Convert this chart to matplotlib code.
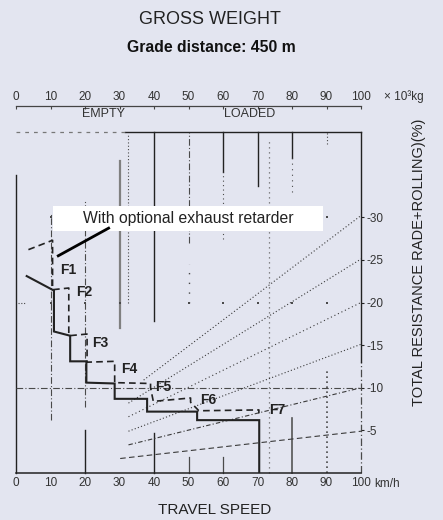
import matplotlib
matplotlib.use("Agg")
import matplotlib.pyplot as plt
from matplotlib.patches import Rectangle

plt.rcParams['font.family'] = ['Liberation Sans', 'DejaVu Sans']

BG = '#e3e5f0'
INK = '#222222'
GRID = '#4a4a4a'

# ---------------- data ----------------
speed_ticks = [0, 10, 20, 30, 40, 50, 60, 70, 80, 90, 100]
weight_ticks = [0, 10, 20, 30, 40, 50, 60, 70, 80, 90, 100]
resist_ticks = [5, 10, 15, 20, 25, 30]
resist_labels = ['-5', '-10', '-15', '-20', '-25', '-30']

# stepped curve without retarder (speed km/h, resistance %)
plain_speed = [3.1, 11.0, 11.0, 15.7, 15.7, 20.4, 20.4, 28.6, 28.6, 38.0, 38.0, 52.5, 52.5, 70.5, 70.5]
plain_resist = [23.1, 21.4, 16.6, 16.1, 13.1, 13.1, 10.6, 10.5, 8.7, 8.7, 7.2, 7.2, 6.2, 6.2, 0.0]

# stepped curve with optional exhaust retarder
ret_speed = [3.6, 10.6, 10.6, 15.3, 15.3, 20.6, 20.6, 28.6, 28.6, 39.0, 39.0, 39.8, 50.6, 50.6,
             53.0, 70.4, 70.4]
ret_resist = [26.2, 27.3, 21.5, 21.7, 16.1, 16.3, 13.0, 13.1, 10.6, 10.5, 10.0, 8.4, 8.8, 8.3,
              7.3, 7.4, 7.0]

gear_labels = ['F1', 'F2', 'F3', 'F4', 'F5', 'F6', 'F7']
gear_x = [12.8, 17.4, 22.0, 30.4, 40.2, 53.5, 73.3]
gear_y = [23.8, 21.2, 15.3, 12.2, 10.1, 8.6, 7.4]

# grade lines: start (speed, resistance) -> end at 100 km/h
grade_start_x = [37.0, 32.6, 32.6, 32.6, 32.6, 30.2]
grade_start_y = [10.9, 8.2, 6.6, 4.9, 3.3, 1.7]
grade_end_y = [30.2, 25.1, 20.0, 15.1, 10.0, 4.9]
grade_styles = [(0, (1, 2)), (0, (1, 2)), (0, (1, 2.5)), (0, (1, 2)), (0, (4, 2, 1, 2)), (0, (5, 3))]

# weight guide segments (x, y_from, y_to, style, colour)
guide_x = [0, 10, 20, 20, 30, 32.6, 40, 40, 50, 50, 50, 60, 60, 60, 70, 73.3, 80, 80, 80, 90, 90]
guide_y0 = [0, 6.2, 7.8, 0, 17.0, 20.0, 17.8, 0, 27.0, 0, 20.0, 35.3, 27.4, 0, 33.7, 0, 37.0, 33.0, 0, 38.6, 0]
guide_y1 = [35.0, 30.4, 31.9, 5.1, 36.6, 39.6, 40.0, 4.7, 40.0, 1.9, 24.5, 40.0, 35.3, 1.9, 40.0, 39.3, 40.0, 37.0, 6.5, 40.0, 12.3]
guide_ls = ['-', (0, (6, 2, 1, 2)), (0, (6, 2, 1, 2)), '-', '-', (0, (1, 2)), '-', '-',
            (0, (6, 2, 1, 2)), '-', (0, (1, 6)), '-', (0, (1, 3)), '-', '-', (0, (1, 3)), '-',
            (0, (1, 4)), '-', (0, (1, 2)), (0, (1, 2))]
guide_lw = [1.0, 0.8, 0.8, 1.0, 1.6, 0.8, 1.0, 1.0, 0.8, 0.9, 1.0, 1.0, 0.8, 0.9, 1.0, 0.9, 1.0,
            0.8, 1.2, 0.8, 1.2]
guide_col = [INK, GRID, GRID, INK, '#808080', GRID, INK, INK, GRID, GRID, GRID, INK, GRID, GRID,
             INK, '#666666', INK, GRID, '#555555', GRID, GRID]

dot_rows = [20, 30]
dot_cols = [10, 20, 30, 50, 60, 70, 80, 90]

# ---------------- figure ----------------
W, H = 443, 520
fig = plt.figure(figsize=(W / 100, H / 100), dpi=100, facecolor=BG)
ax = fig.add_axes([16 / W, 47 / H, 345 / W, 341 / H])
ax.set_facecolor(BG)
ax.set_xlim(0, 100)
ax.set_ylim(0, 40)
for s in ax.spines.values():
    s.set_visible(False)

# frame
ax.plot([0, 100], [0, 0], color=INK, lw=1.1, clip_on=False, zorder=3)
ax.plot([100, 100], [13, 40], color=INK, lw=1.0, clip_on=False, zorder=3)
ax.plot([100, 100], [0, 13], color=GRID, lw=0.9, ls=(0, (6, 2, 1, 2)), clip_on=False)
ax.plot([31.7, 100], [40, 40], color=INK, lw=1.0, clip_on=False)
ax.plot([0, 31.7], [40, 40], color='#777777', lw=0.9, ls=(0, (3, 4)), clip_on=False)

# guides
for x, a, b, ls, lw, c in zip(guide_x, guide_y0, guide_y1, guide_ls, guide_lw, guide_col):
    ax.plot([x, x], [a, b], color=c, lw=lw, ls=ls, clip_on=False, zorder=1)

# horizontal dash-dot at 10 %
ax.plot([0, 100], [10, 10], color=GRID, lw=0.8, ls=(0, (6, 2, 1, 2)), zorder=1)
for r in dot_rows:
    ax.scatter(dot_cols, [r] * len(dot_cols), s=2, color=GRID, marker='s', lw=0, zorder=1)
ax.plot([0.5, 3], [20, 20], color=GRID, lw=0.8, ls=(0, (1, 1.5)))

# grade lines
for x0, y0, y1, ls in zip(grade_start_x, grade_start_y, grade_end_y, grade_styles):
    ax.plot([x0, 100], [y0, y1], color='#3a3a3a', lw=0.8, ls=ls, zorder=2)

# curves
ax.plot(plain_speed, plain_resist, color=INK, lw=1.5, zorder=4, solid_joinstyle='miter')
ax.plot(ret_speed, ret_resist, color=INK, lw=1.2, ls=(0, (4, 2.5)), zorder=4)

for lab, x, y in zip(gear_labels, gear_x, gear_y):
    ax.text(x, y, lab, fontsize=10, fontweight='bold', color=INK, ha='left', va='center', zorder=5)

# annotation box
ax.add_patch(Rectangle((10.7, 28.4), 78.3, 2.95, facecolor='white', edgecolor='none', zorder=6))
ax.text(49.9, 29.85, 'With optional exhaust retarder', fontsize=11.3, color=INK,
        ha='center', va='center', zorder=7)
ax.plot([27.2, 11.9], [28.8, 25.4], color='black', lw=2.0, zorder=7, solid_capstyle='butt')

# bottom axis
ax.set_xticks(speed_ticks)
ax.set_xticklabels([str(v) for v in speed_ticks])
ax.tick_params(axis='x', length=0, pad=3, labelsize=8.5, labelcolor='#333333')

# right axis
ax.yaxis.tick_right()
ax.set_yticks(resist_ticks)
ax.set_yticklabels(resist_labels)
ax.tick_params(axis='y', direction='out', length=2.5, width=0.8, color=INK, pad=1.5,
               labelsize=8.5, labelcolor='#333333')

# top weight axis
sec = ax.secondary_xaxis((473 - 106) / 341)
sec.set_xticks(weight_ticks)
sec.set_xticklabels([str(v) for v in weight_ticks])
sec.spines['top'].set_color('#444444')
sec.spines['top'].set_linewidth(0.9)
sec.tick_params(direction='in', length=2, width=0.8, color='#444444', pad=2,
                labelsize=8.5, labelcolor='#333333')

ax.text(25.3, 42.1, 'EMPTY', fontsize=9, color='#333333', ha='center', va='center', clip_on=False)
ax.text(67.8, 42.1, 'LOADED', fontsize=9, color='#333333', ha='center', va='center', clip_on=False)

# figure texts
fig.text(210 / W, 1 - 19.5 / H, 'GROSS WEIGHT', fontsize=13, color='#222222', ha='center', va='center')
fig.text(211.7 / W, 1 - 47.5 / H, 'Grade distance: 450 m', fontsize=11.3, fontweight='bold',
         color='#111111', ha='center', va='center')
fig.text(215 / W, 1 - 510 / H, 'TRAVEL SPEED', fontsize=11, color='#222222', ha='center', va='center')
fig.text(419 / W, 1 - 262 / H, 'TOTAL RESISTANCE RADE+ROLLING)(%)', fontsize=10.5, color='#222222',
         rotation=90, ha='center', va='center')
fig.text(374 / W, 1 - 484 / H, 'km/h', fontsize=8.5, color='#333333', ha='left', va='center')
fig.text(384 / W, 1 - 97 / H, '× 10³kg', fontsize=8.5, color='#333333', ha='left', va='center')

fig.savefig('out.png', dpi=100, facecolor=BG)
